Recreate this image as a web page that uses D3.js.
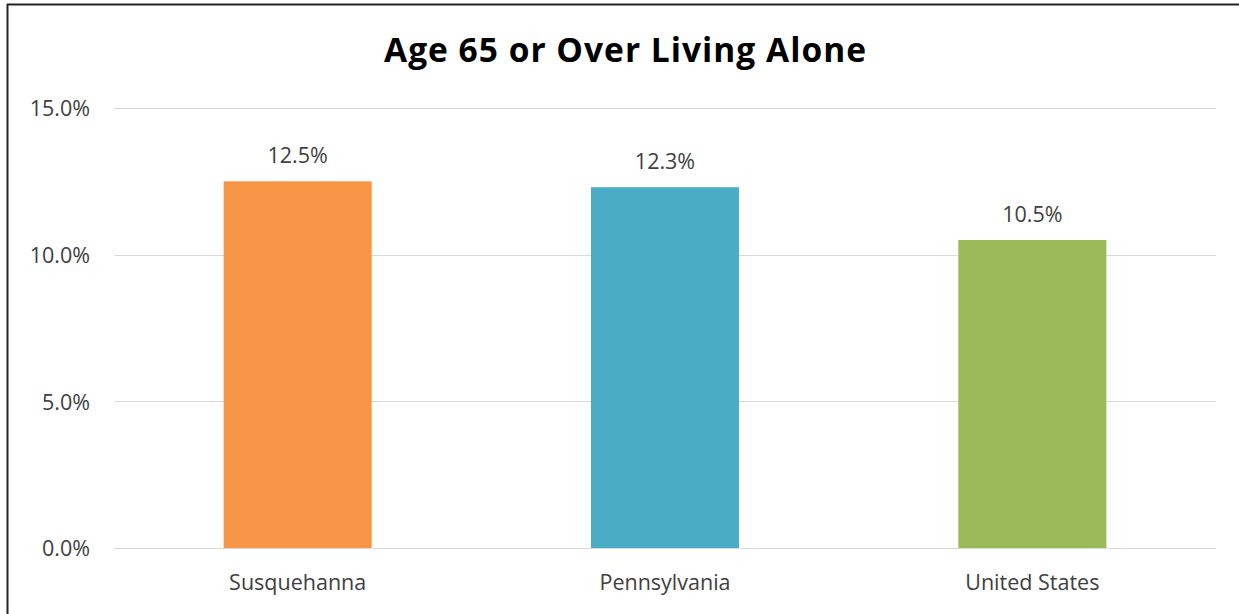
<!DOCTYPE html>
<html>
<head>
<meta charset="utf-8">
<script src="https://cdn.jsdelivr.net/npm/d3@7"></script>
<style>
  html, body { margin: 0; padding: 0; background: #fff; }
  svg { display: block; }
  text { font-family: "Open Sans", "Noto Sans", sans-serif; }
</style>
</head>
<body>
<svg id="chart" width="1239" height="614"></svg>
<script>
const categories = ["Susquehanna", "Pennsylvania", "United States"];
const values = [12.5, 12.3, 10.5];
const colors = ["#F79646", "#4BACC6", "#9BBB59"];
const yTicks = [0, 5, 10, 15];
const title = "Age 65 or Over Living Alone";

const svg = d3.select("#chart");
const W = 1239, H = 614;
const plot = { left: 114, right: 1216, top: 108, bottom: 548 };
const fs = 21.5;

// frame
svg.append("rect").attr("x", 0).attr("y", 0).attr("width", W).attr("height", H).attr("fill", "#fff");
svg.append("line").attr("x1", 7).attr("x2", W).attr("y1", 4.5).attr("y2", 4.5)
  .attr("stroke", "#222").attr("stroke-width", 2);
svg.append("line").attr("x1", 7.5).attr("x2", 7.5).attr("y1", 4).attr("y2", H)
  .attr("stroke", "#222").attr("stroke-width", 2);

const x = d3.scaleBand().domain(categories).range([plot.left, plot.right]).paddingInner(0.597).paddingOuter(0.2985);
const y = d3.scaleLinear().domain([0, 15]).range([plot.bottom, plot.top]);

// gridlines
svg.append("g").selectAll("line").data(yTicks).join("line")
  .attr("x1", plot.left).attr("x2", plot.right)
  .attr("y1", d => Math.round(y(d)) + 0.5).attr("y2", d => Math.round(y(d)) + 0.5)
  .attr("stroke", "#D9D9D9").attr("stroke-width", 1);

// y axis labels
const yAxis = d3.axisLeft(y).tickValues(yTicks).tickFormat(d => d.toFixed(1) + "%").tickSize(0).tickPadding(0);
const ya = svg.append("g").attr("transform", `translate(90,0)`).call(yAxis);
ya.select(".domain").remove();
ya.selectAll("text").attr("font-size", fs).attr("fill", "#404040")
  .attr("font-family", "'Open Sans', sans-serif").attr("dy", "0.36em");

// bars
svg.append("g").selectAll("rect").data(values).join("rect")
  .attr("x", (d, i) => x(categories[i]))
  .attr("width", x.bandwidth())
  .attr("y", d => y(d))
  .attr("height", d => y(0) - y(d))
  .attr("fill", (d, i) => colors[i]);

// data labels
svg.append("g").selectAll("text").data(values).join("text")
  .attr("x", (d, i) => x(categories[i]) + x.bandwidth() / 2)
  .attr("y", d => y(d) - 18)
  .attr("text-anchor", "middle")
  .attr("font-size", fs).attr("fill", "#404040")
  .text(d => d.toFixed(1) + "%");

// x axis labels
const xAxis = d3.axisBottom(x).tickSize(0).tickPadding(0);
const xa = svg.append("g").attr("transform", `translate(0,${plot.bottom})`).call(xAxis);
xa.select(".domain").remove();
xa.selectAll("text").attr("font-size", fs).attr("fill", "#404040")
  .attr("font-family", "'Open Sans', sans-serif").attr("dy", "0").attr("y", 42);

// title
svg.append("text").attr("x", 625).attr("y", 62).attr("text-anchor", "middle")
  .attr("font-size", 33.5).attr("font-weight", "bold").attr("fill", "#000")
  .attr("textLength", 482).attr("lengthAdjust", "spacing")
  .text(title);
</script>
</body>
</html>
